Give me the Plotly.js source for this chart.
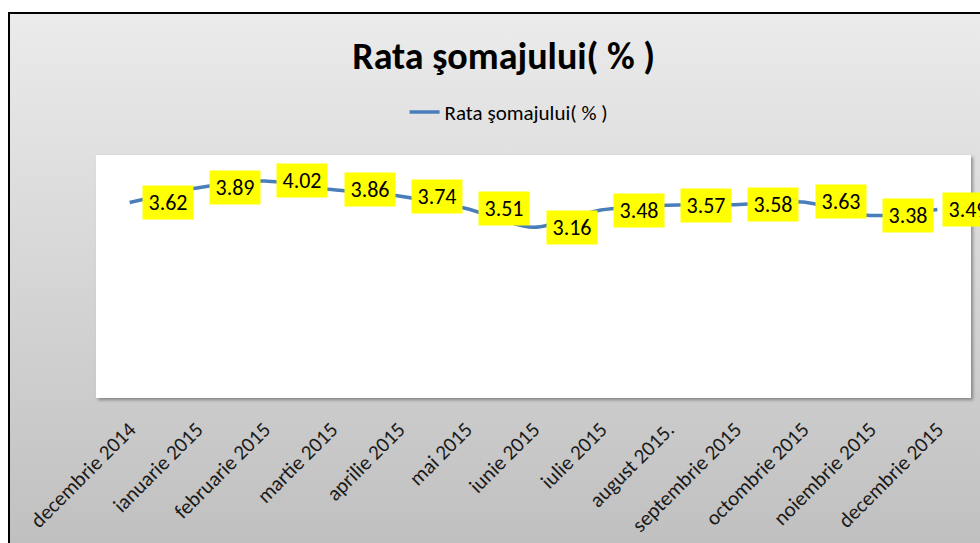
<!DOCTYPE html>
<html>
<head>
<meta charset="utf-8">
<script src="https://cdn.plot.ly/plotly-3.0.1.min.js"></script>
<style>
  html, body { margin: 0; padding: 0; background: #ffffff; overflow: hidden; width: 980px; height: 543px; }
  #frame { position: absolute; left: 8px; top: 12px; width: 1000px; height: 600px;
           border-left: 2px solid #000; border-top: 2px solid #000;
           background: linear-gradient(to bottom, #ebebeb 0px, #c0c0c0 530px); }
  #shadow { position: absolute; left: 96px; top: 155px; width: 875px; height: 243px;
            box-shadow: 2px 2px 3px rgba(0,0,0,0.35); background: #fff; }
  #chart { position: absolute; left: 0; top: 0; width: 980px; height: 543px; }
</style>
</head>
<body>
<div id="frame"></div>
<div id="shadow"></div>
<div id="chart"></div>
<script>
const categories = ["decembrie 2014", "ianuarie 2015", "februarie 2015", "martie 2015", "aprilie 2015",
  "mai 2015", "iunie 2015", "iulie 2015", "august 2015.", "septembrie 2015", "octombrie 2015",
  "noiembrie 2015", "decembrie 2015"];
const rates = [3.62, 3.89, 4.02, 3.86, 3.74, 3.51, 3.16, 3.48, 3.57, 3.58, 3.63, 3.38, 3.49];
const seriesName = "Rata şomajului( % )";
const chartTitle = "Rata şomajului( % )";

const FONT = "Carlito, Lato, 'Open Sans', sans-serif";

const trace = {
  x: categories,
  y: rates,
  type: 'scatter',
  mode: 'lines',
  name: seriesName,
  line: { color: '#4a7ebb', width: 3.5, shape: 'spline', smoothing: 0.8 },
  hoverinfo: 'skip'
};

const lastIdx = categories.length - 1;
const annotations = categories.map((c, i) => ({
  x: c, y: rates[i], xref: 'x', yref: 'y',
  text: rates[i].toFixed(2),
  showarrow: false,
  xanchor: 'left', yanchor: 'middle',
  xshift: i === lastIdx ? 5 : 12,
  bgcolor: '#ffff00',
  borderpad: 0,
  width: 50, height: 33,
  font: { family: FONT, size: 22, color: '#000' }
}));

const layout = {
  width: 980, height: 543,
  margin: { l: 96, r: 9, t: 155, b: 145 },
  paper_bgcolor: 'rgba(0,0,0,0)',
  plot_bgcolor: '#ffffff',
  title: {
    text: '<b>' + chartTitle + '</b>',
    font: { family: FONT, size: 38, color: '#000' },
    xref: 'container', yref: 'container',
    x: 0.514, xanchor: 'center', y: 1 - 56/543, yanchor: 'middle'
  },
  showlegend: true,
  legend: {
    orientation: 'h', x: 0.4715, xanchor: 'center', y: 1.176, yanchor: 'middle',
    bgcolor: 'rgba(0,0,0,0)',
    font: { family: FONT, size: 21, color: '#000' }
  },
  xaxis: {
    type: 'category',
    range: [-0.5, categories.length - 0.5],
    tickangle: -45,
    showgrid: false, zeroline: false, showline: false,
    ticks: '', ticklabelstandoff: 14,
    tickfont: { family: FONT, size: 21, color: '#1a1a1a' },
    fixedrange: true
  },
  yaxis: {
    range: [0, 4.5],
    visible: false,
    showgrid: false, zeroline: false,
    fixedrange: true
  },
  annotations: annotations
};

Plotly.newPlot('chart', [trace], layout, { displayModeBar: false, staticPlot: true });
</script>
</body>
</html>
